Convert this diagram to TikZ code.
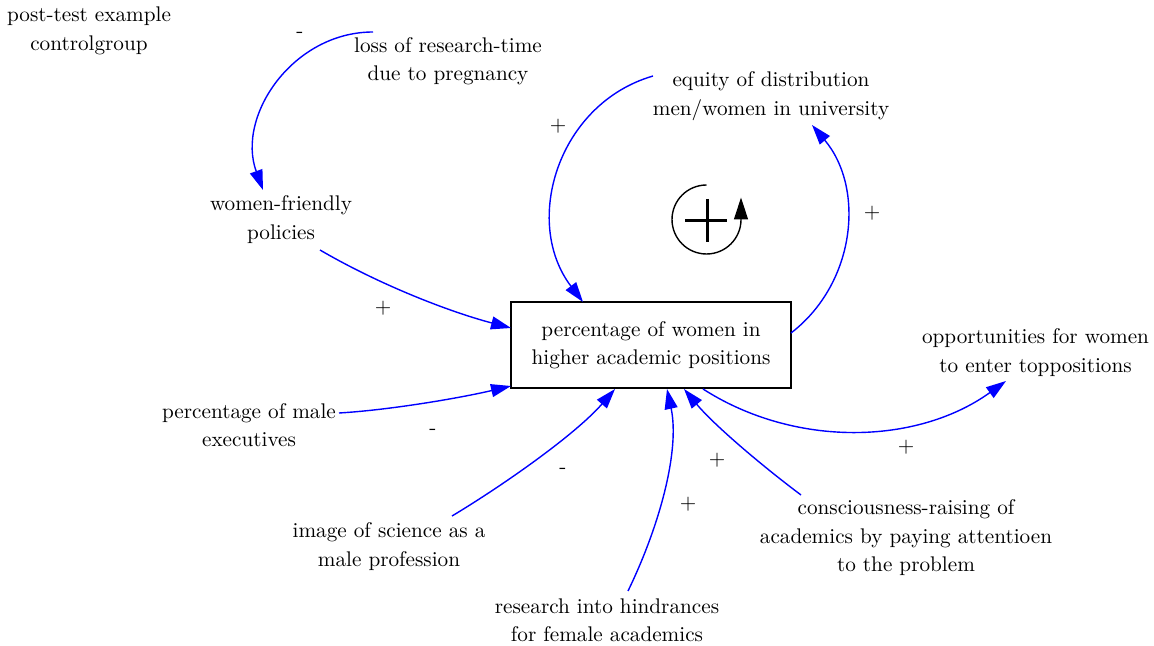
\documentclass[tikz,border=0pt]{standalone}
\usepackage{fontspec}
\usetikzlibrary{arrows.meta,calc}
\begin{document}
\begin{tikzpicture}[x=0.5pt,y=-0.5pt,
  every node/.style={font=\rmfamily\fontsize{10.6}{14.25}\selectfont},
  var/.style={align=center, inner sep=0pt},
  stock/.style={draw=black, line width=0.8pt, align=center, minimum width=140pt, minimum height=43pt, inner sep=0pt},
  link/.style={draw=blue, line width=0.7pt, -{Triangle[length=10pt,width=6.5pt]}},
  pol/.style={inner sep=0pt},
  loopline/.style={draw=black, line width=0.7pt},
  loopsign/.style={draw=black, line width=1.5pt},
]
\useasboundingbox (0,0) rectangle (1154,646);

% variables
\node[var] (post) at (89,31) {post-test example\\controlgroup};
\node[var] (loss) at (448,61) {loss of research-time\\due to pregnancy};
\node[var] (equity) at (771,96) {equity of distribution\\men/women in university};
\node[var] (wf) at (281,219.5) {women-friendly\\policies};
\node[stock] (box) at (651,345) {percentage of women in\\higher academic positions};
\node[var] (opp) at (1035.5,352.5) {opportunities for women\\to enter toppositions};
\node[var] (male) at (249,425) {percentage of male\\executives};
\node[var] (image) at (389,546.5) {image of science as a\\male profession};
\node[var] (research) at (607,620.5) {research into hindrances\\for female academics};
\node[var] (cons) at (906,538) {consciousness-raising of\\academics by paying attentioen\\to the problem};

% polarities
\node[pol] (p1) at (300,35) {-};
\node[pol] (p2) at (383,308) {+};
\node[pol] (p3) at (433,432) {-};
\node[pol] (p4) at (563,471) {-};
\node[pol] (p5) at (688,504) {+};
\node[pol] (p6) at (717,460) {+};
\node[pol] (p7) at (906,447) {+};
\node[pol] (p8) at (872,213) {+};
\node[pol] (p9) at (558,126) {+};

% links
\draw[link] ($(loss.center)+(-75,-29)$) .. controls (293,32) and (236,116) .. ($(wf.center)+(-18,-29.5)$);
\draw[link] ($(wf.center)+(39,30.5)$) .. controls (380,285) and (450,312) .. ($(box.center)+(-140,-17)$);
\draw[link] ($(male.center)+(90,-12)$) .. controls (390,410) and (460,398) .. ($(box.center)+(-140,41)$);
\draw[link] ($(image.center)+(63,-30.5)$) .. controls (502,486) and (575,435) .. ($(box.center)+(-36,44)$);
\draw[link] ($(research.center)+(21,-29.5)$) .. controls (660,525) and (680,450) .. ($(box.center)+(16,44)$);
\draw[link] ($(cons.center)+(-105,-43)$) .. controls (761,465) and (714,425) .. ($(box.center)+(33,44)$);
\draw[link] ($(box.center)+(52,44)$) .. controls (795,448) and (917,445) .. ($(opp.center)+(-29.5,28.5)$);
\draw[link] ($(box.center)+(140,-12)$) .. controls (856,283) and (865,188) .. ($(equity.center)+(41,29)$);
\draw[link] ($(equity.center)+(-118,-20)$) .. controls (558,103.6) and (522,222) .. ($(box.center)+(-68,-43)$);

% loop symbol
\coordinate (loop) at (706.5,219.5);
\draw[loopline, -{Triangle[length=11pt,width=7pt]}] ($(loop)+(0,-34.5)$) arc[start angle=90, end angle=360, radius=17.25pt] -- ++(0,-22);
\draw[loopsign] ($(loop)+(-21.5,1.5)$) -- ($(loop)+(20.5,1.5)$);
\draw[loopsign] ($(loop)+(0.5,-20.5)$) -- ($(loop)+(0.5,22.5)$);
\end{tikzpicture}
\end{document}
